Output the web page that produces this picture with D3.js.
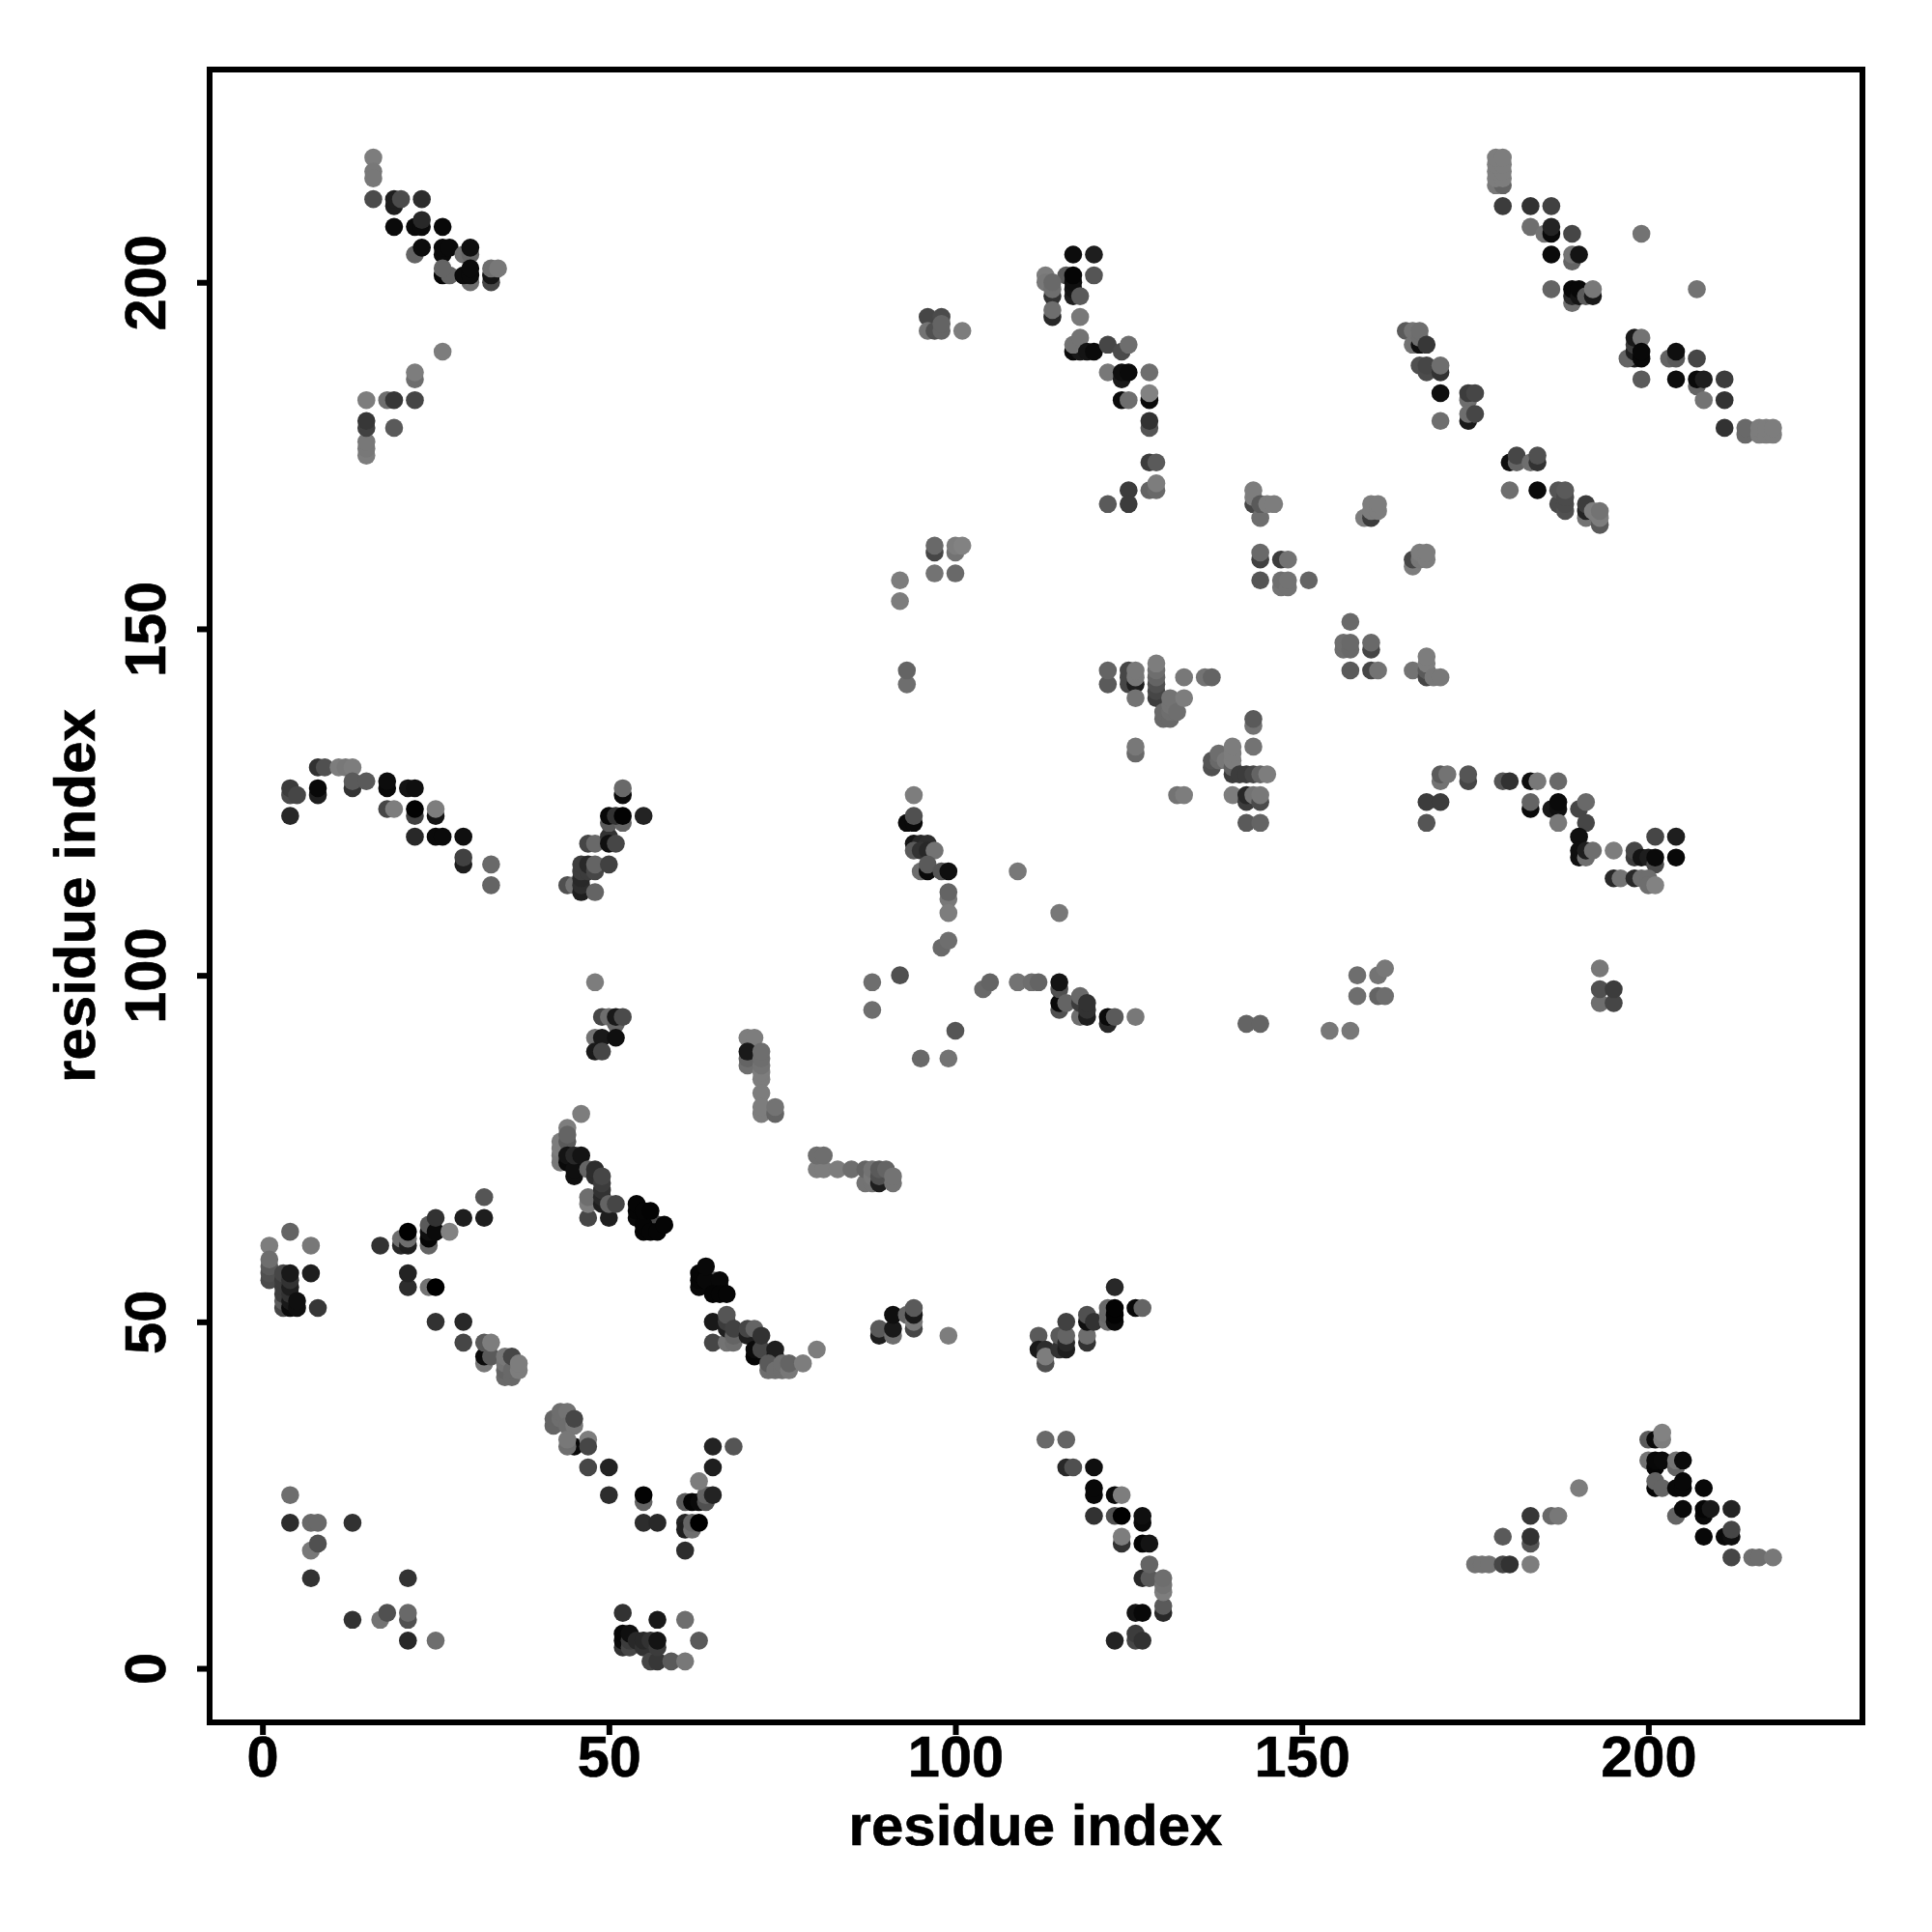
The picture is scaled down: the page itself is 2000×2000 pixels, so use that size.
<!DOCTYPE html>
<html><head><meta charset="utf-8"><script src="https://cdn.jsdelivr.net/npm/d3@7"></script>
<style>html,body{margin:0;padding:0;background:#fff}</style></head><body><div id="c"></div>
<script>
// each contact: [residue i, residue j, darkness score]
const topLeft=[[16,218,125],[16,216,120],[16,215,120],[16,212,75],[19,211,30],[19,212,30],[20,212,75],[23,212,45],[19,208,10],[22,208,10],[23,208,10],[23,209,40],[26,208,8],[22,204,100],[23,205,12],[26,204,10],[26,205,10],[27,205,10],[29,204,110],[30,204,100],[30,205,15],[26,201,5],[27,201,100],[26,202,100],[30,200,110],[29,201,10],[30,201,10],[30,202,10],[33,200,70],[33,201,20],[33,202,110],[34,202,120],[26,190,125],[22,186,110],[22,187,125],[22,183,70],[18,183,110],[19,183,55],[15,183,125],[15,175,125],[15,176,120],[15,177,120],[15,179,65],[15,180,55],[19,179,90]];
const topMid=[[96,195,70],[98,195,75],[96,193,115],[97,193,80],[98,193,100],[98,194,100],[101,193,125],[116,201,90],[113,201,125],[113,200,120],[114,198,50],[114,199,110],[114,200,105],[114,195,40],[114,196,110],[117,198,30],[117,199,20],[117,200,15],[117,201,5],[117,204,12],[120,204,30],[120,201,85],[118,198,90],[118,195,120],[117,190,10],[118,190,25],[117,191,115],[118,192,115],[119,190,20],[120,190,10],[122,191,70],[124,190,75],[125,191,110],[122,187,120],[124,186,25],[124,187,15],[125,187,10],[128,187,110],[124,183,10],[125,183,110],[128,183,10],[128,184,130],[128,179,85],[128,180,50],[128,174,60],[129,174,90],[125,170,60],[125,168,60],[122,168,90],[128,170,100],[129,170,105],[129,171,125]];
const upperCentre=[[143,168,70],[143,169,125],[143,170,125],[144,166,110],[144,168,90],[145,168,125],[146,168,125],[97,161,70],[97,162,105],[100,161,115],[100,162,125],[101,162,130],[97,158,115],[100,158,105],[92,157,125],[92,154,125],[93,142,110],[93,144,100],[122,142,90],[122,144,100],[125,142,70],[125,143,70],[125,144,70],[126,142,30],[126,143,120],[126,144,120],[126,140,115],[129,140,60],[129,141,70],[129,142,80],[129,143,100],[129,144,110],[129,145,125],[130,137,105],[130,138,105],[131,137,105],[131,138,110],[131,139,115],[131,140,115],[132,138,110],[133,140,125],[133,143,120],[136,143,115],[137,143,100],[126,132,105],[126,133,120],[143,136,115],[143,137,90],[143,133,115],[137,130,80],[137,131,85],[138,131,105],[138,132,110],[139,131,120],[140,129,60],[140,130,95],[140,131,125],[140,132,125],[140,133,125],[141,129,60],[142,129,60],[143,129,70],[144,129,100],[145,129,125],[132,126,115],[133,126,125],[140,126,125],[142,125,60],[142,126,40],[143,126,115],[144,125,75],[144,126,120],[142,122,90],[144,122,100]];
const upperRight=[[144,160,65],[144,161,105],[147,160,60],[148,160,115],[144,157,85],[147,156,115],[147,157,110],[148,156,115],[148,157,115],[151,157,100],[159,166,125],[160,166,60],[160,167,125],[160,168,125],[161,167,125],[161,168,125],[157,151,105],[156,147,110],[156,148,110],[157,147,105],[157,148,105],[160,147,70],[160,148,105],[157,144,90],[160,144,70],[161,144,115],[166,144,115],[168,143,70],[168,144,90],[168,145,125],[168,146,125],[169,143,120],[170,143,120],[166,159,125],[166,160,70],[167,160,120],[167,161,125],[168,160,125],[168,161,125],[180,170,110],[184,170,10],[187,168,75],[187,170,85],[188,167,80],[188,168,75],[188,169,75],[188,170,90],[191,166,115],[191,167,35],[191,168,60],[192,167,125],[193,165,90],[193,166,125],[193,167,115]];
const farTopRight=[[178,214,120],[179,214,100],[178,215,125],[179,215,125],[178,216,125],[179,216,125],[178,217,125],[179,217,125],[178,218,125],[179,218,125],[179,211,60],[183,211,50],[186,211,65],[183,208,110],[185,207,115],[186,207,10],[186,208,35],[189,207,70],[186,204,10],[189,203,100],[189,204,115],[190,204,20],[186,199,100],[189,197,110],[189,198,40],[189,199,8],[190,198,20],[190,199,8],[191,198,90],[192,198,25],[192,199,120],[199,207,115],[207,199,115],[198,189,30],[197,189,100],[198,190,30],[198,191,60],[198,192,25],[199,192,115],[199,189,8],[199,190,8],[199,186,90],[203,189,100],[204,189,90],[204,190,15],[207,189,70],[204,186,12],[207,185,100],[207,186,10],[208,186,30],[211,186,60],[208,183,115],[211,183,50],[211,179,50],[214,178,105],[214,179,105],[216,178,125],[216,179,125],[217,178,125],[217,179,125],[218,178,125],[218,179,125]];
const helixRight=[[165,193,90],[166,193,115],[166,191,115],[167,191,15],[167,192,110],[167,193,110],[168,191,55],[167,188,80],[168,187,75],[168,188,70],[170,187,50],[170,188,110],[170,184,15],[170,180,110],[174,183,110],[174,184,60],[175,184,70],[174,180,25],[174,181,110],[175,181,70],[180,174,15],[181,174,100],[181,175,70],[183,174,110],[184,174,50],[184,175,80]];
const midRight=[[170,128,115],[170,129,90],[171,129,115],[174,128,70],[174,129,85],[179,128,85],[180,128,50],[183,128,15],[184,128,120],[187,128,105],[168,125,60],[170,125,60],[168,122,85],[183,124,10],[183,125,100],[186,124,25],[187,124,15],[187,125,10],[187,122,120],[190,124,70],[191,125,105],[191,122,70],[190,120,15],[190,117,15],[190,118,15],[191,117,110],[191,118,30],[192,118,110],[195,118,125],[198,117,60],[198,118,70],[199,117,20],[200,117,30],[201,116,75],[201,117,10],[201,120,70],[204,120,30],[204,117,8],[195,114,40],[196,114,115],[198,114,40],[199,114,110],[200,114,110],[200,113,110],[201,113,130]];
const midLeft=[[4,123,40],[4,126,75],[4,127,60],[5,126,70],[8,126,30],[8,127,8],[8,130,50],[9,130,80],[11,130,125],[12,130,120],[13,130,125],[13,127,50],[13,128,90],[15,128,90],[18,127,8],[18,128,12],[21,127,20],[22,127,15],[18,124,70],[19,124,125],[22,123,65],[22,124,3],[25,123,20],[25,124,125],[22,120,40],[25,120,10],[26,120,10],[29,120,15],[29,116,30],[29,117,65],[33,116,105],[33,113,100],[44,113,80],[45,113,115],[46,112,30],[46,113,45],[46,114,40],[46,115,60],[46,116,60],[47,115,60],[47,116,40],[48,115,70],[48,116,100],[50,116,65],[48,112,100],[47,119,70],[48,119,105],[50,120,50],[50,119,15],[51,119,70],[50,122,90],[52,122,100],[50,123,8],[51,123,50],[52,123,3],[55,123,35],[52,126,10],[52,127,105],[48,99,125],[49,94,70],[50,94,110],[51,93,100],[51,94,25],[52,94,75],[48,91,115],[49,91,25],[51,91,15],[48,89,25],[49,89,70]];
const centre=[[94,126,125],[93,122,10],[94,122,10],[94,123,80],[94,119,20],[95,119,40],[96,119,45],[94,118,90],[95,118,50],[96,118,40],[97,118,115],[95,115,110],[96,115,10],[96,116,90],[98,115,85],[99,115,15],[99,111,120],[99,112,100],[99,109,125],[98,104,105],[99,105,110],[109,115,120],[115,109,120],[88,99,110],[88,95,110],[92,100,80],[100,92,85],[95,88,105],[99,88,115],[104,98,105],[105,99,100],[109,99,115],[111,99,110],[112,99,100],[115,95,80],[115,96,10],[115,98,80],[115,99,20],[116,96,100],[118,94,110],[118,96,60],[118,97,105],[119,94,30],[119,95,50],[119,96,50],[122,93,40],[122,94,10],[123,94,90],[126,94,120],[142,93,100],[144,93,100],[154,92,120],[157,92,120],[158,97,110],[158,100,110],[161,97,100],[162,97,110],[161,100,115],[162,101,120],[193,96,110],[193,98,80],[193,101,120],[195,96,70],[195,98,60]];
const lowerHelix=[[70,91,125],[71,91,125],[70,87,110],[70,88,100],[70,89,25],[72,85,125],[72,86,125],[72,87,115],[72,88,110],[72,89,110],[72,83,125],[72,80,125],[72,81,125],[74,80,100],[74,81,115],[80,72,125],[81,72,125],[80,74,110],[81,74,110],[83,72,125],[85,72,110],[87,70,115],[87,72,100],[88,70,115],[88,71,120],[88,72,115],[89,70,30],[89,71,80],[89,72,90],[90,72,100],[91,70,115],[91,71,115]];
const longHelix=[[56,65,110],[57,64,70],[65,56,100],[46,80,125],[44,78,125],[43,73,120],[43,74,120],[43,75,125],[43,76,125],[44,76,90],[44,77,100],[44,73,10],[44,74,20],[45,71,15],[45,72,15],[45,74,40],[46,74,20],[47,72,100],[48,71,45],[48,72,45],[47,65,70],[47,67,125],[47,68,110],[49,67,30],[49,68,40],[49,69,50],[49,70,60],[49,71,70],[50,65,30],[50,67,100],[51,67,70],[54,65,10],[54,66,5],[54,67,5],[55,63,5],[55,64,5],[55,66,5],[56,63,5],[56,66,3],[57,63,5],[58,64,5],[63,55,8],[63,56,5],[63,57,5],[64,56,8],[64,58,8],[66,55,8],[66,56,8],[65,54,5],[66,54,5],[67,54,5],[65,47,70],[65,50,25],[67,47,115],[67,49,30],[67,50,60],[67,51,85],[68,47,110],[68,48,100],[68,49,65],[70,48,30],[70,49,70],[71,49,100],[71,45,5],[71,46,10],[72,46,70],[72,48,50],[74,45,15],[74,46,30],[73,43,110],[73,44,90],[74,43,110],[75,43,110],[75,44,110],[76,43,120],[76,44,100],[78,44,125],[80,46,125],[89,48,30],[89,49,90],[91,48,110],[91,49,25],[91,51,15],[93,51,100],[94,49,70],[94,50,120],[94,51,25],[94,52,90],[99,48,125]];
const lowLeft=[[4,63,100],[1,61,125],[7,61,120],[1,56,75],[1,57,80],[1,58,90],[1,59,110],[3,52,70],[3,53,90],[3,54,60],[3,55,60],[3,56,60],[3,57,70],[4,52,10],[4,53,25],[4,54,50],[4,55,30],[4,56,50],[4,57,25],[5,52,15],[5,53,15],[7,57,30],[8,52,55],[17,61,50],[20,61,40],[20,62,110],[21,61,30],[21,62,110],[21,63,0],[24,61,100],[24,62,5],[24,63,15],[24,64,90],[25,63,10],[25,65,50],[27,63,130],[29,65,30],[32,65,30],[32,68,85],[21,55,45],[21,57,35],[24,55,115],[25,55,0],[25,50,50],[29,50,40],[29,47,70],[32,44,120],[32,45,10],[32,47,90],[33,45,90],[33,47,125],[35,42,105],[35,43,100],[35,44,115],[35,45,120],[36,42,105],[36,43,105],[36,45,70],[37,43,125],[37,44,125]];
const bottomLeft=[[4,25,110],[4,21,45],[7,21,105],[8,21,105],[7,17,120],[8,18,80],[7,13,50],[13,21,50],[13,7,50],[17,7,115],[18,8,80],[21,13,50],[21,4,40],[21,7,80],[21,8,105],[25,4,110]];
const bottomMid=[[42,35,100],[42,36,100],[43,36,110],[43,37,110],[44,37,115],[44,35,110],[45,35,120],[45,36,70],[45,32,10],[44,32,110],[44,33,120],[47,33,125],[47,32,70],[47,29,70],[50,29,35],[50,25,45],[55,24,100],[55,25,3],[55,21,45],[57,21,40],[61,24,90],[61,21,35],[61,20,30],[61,17,45],[62,20,110],[62,21,100],[62,24,5],[63,24,10],[63,21,0],[64,24,80],[64,25,100],[63,27,125],[65,25,35],[65,29,30],[65,32,35],[68,32,85],[52,8,50],[52,3,50],[52,4,10],[52,5,8],[53,3,70],[53,4,60],[53,5,15],[54,4,40],[55,3,50],[55,4,40],[56,4,50],[56,1,70],[57,1,55],[57,3,60],[57,4,20],[57,7,25],[59,1,90],[61,1,120],[61,7,110],[63,4,90]];
const bottomCentre=[[112,48,90],[112,46,25],[113,46,45],[113,44,80],[113,45,125],[115,46,50],[115,48,90],[116,46,30],[116,47,40],[116,48,100],[116,50,65],[119,47,50],[119,48,110],[119,50,15],[119,51,80],[120,50,50],[122,50,110],[122,51,105],[122,52,105],[123,50,10],[123,51,3],[123,52,3],[123,55,40],[126,52,8],[127,52,100],[113,33,105],[116,33,100],[116,29,40],[117,29,80],[120,29,15],[120,25,8],[120,26,8],[123,25,10],[124,25,125],[120,22,50],[123,22,80],[124,22,0],[127,21,10],[127,22,15],[124,18,50],[124,19,125],[127,18,5],[128,18,20],[127,13,40],[128,13,90],[128,15,100],[130,8,40],[130,9,90],[130,11,125],[130,12,115],[130,13,110],[126,8,20],[127,8,8],[126,4,70],[126,5,60],[127,4,50],[123,4,35]];
const bottomRight=[[175,15,115],[176,15,115],[177,15,115],[179,15,70],[180,15,50],[183,15,125],[179,19,90],[183,18,85],[183,19,50],[183,22,55],[186,22,105],[187,22,120],[190,26,125],[200,33,90],[201,33,10],[202,33,125],[202,34,130],[200,30,115],[201,29,5],[201,30,8],[202,30,10],[204,29,100],[204,30,115],[205,30,10],[201,26,5],[201,27,100],[202,26,100],[204,26,8],[205,26,8],[205,27,8],[208,26,8],[204,22,100],[205,23,10],[208,22,10],[208,23,5],[209,23,25],[212,23,35],[208,19,8],[211,19,10],[212,19,15],[212,20,70],[212,16,70],[215,16,110],[216,16,110],[218,16,120]];
const tickValues=[0,50,100,150,200];
const axisTitle="residue index";
const allClusters=[topLeft,topMid,upperCentre,upperRight,farTopRight,helixRight,midRight,midLeft,centre,lowerHelix,longHelix,lowLeft,bottomLeft,bottomMid,bottomCentre,bottomRight];

const svg=d3.select("#c").append("svg").attr("width",2000).attr("height",2000).style("display","block");
const x=d3.scaleLinear().domain([-7.62,230.9]).range([217,1928]);
const y=d3.scaleLinear().domain([-7.8,230.7]).range([1783,72]);
const shade=d3.scaleLinear().domain([0,130]).range(["#000000","#828282"]);
const font="'Liberation Sans',Arial,sans-serif";

svg.append("g").selectAll("circle").data(allClusters.flat()).join("circle")
  .attr("cx",d=>x(d[0])).attr("cy",d=>y(d[1])).attr("r",9.3).attr("fill",d=>shade(d[2]));

svg.append("rect").attr("x",217).attr("y",72).attr("width",1711).attr("height",1711)
  .attr("fill","none").attr("stroke","#000").attr("stroke-width",6);

const gx=svg.append("g").attr("transform","translate(0,1783)").call(d3.axisBottom(x).tickValues(tickValues).tickSize(13).tickPadding(26));
const gy=svg.append("g").attr("transform","translate(217,0)").call(d3.axisLeft(y).tickValues(tickValues).tickSize(13).tickPadding(0));
[gx,gy].forEach(g=>{g.select(".domain").remove();g.selectAll(".tick line").attr("stroke","#000").attr("stroke-width",6);
 g.selectAll("text").attr("fill","#000").attr("stroke","#000").attr("stroke-width",0.6).style("font-family",font).style("font-weight","bold").style("font-size","59.5px");});
gy.selectAll("text").attr("x",null).attr("dy",null).attr("y",null).attr("text-anchor","middle")
  .attr("transform","translate(-46,0) rotate(-90)");
gx.selectAll("text").attr("dy",null).attr("y",56);

svg.append("text").attr("x",1072).attr("y",1910).attr("text-anchor","middle").text(axisTitle).attr("stroke","#000").attr("stroke-width",0.6)
  .style("font-family",font).style("font-weight","bold").style("font-size","60px");
svg.append("text").attr("transform","translate(98,927.5) rotate(-90)").attr("text-anchor","middle").text(axisTitle).attr("stroke","#000").attr("stroke-width",0.6)
  .style("font-family",font).style("font-weight","bold").style("font-size","60px");
</script></body></html>
